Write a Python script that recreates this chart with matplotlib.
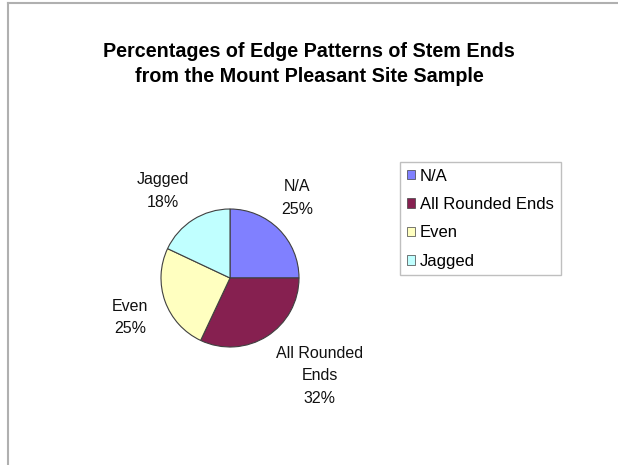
import matplotlib.pyplot as plt
import numpy as np
from matplotlib.patches import Patch
from matplotlib.lines import Line2D

plt.rcParams['font.family'] = ['Liberation Sans', 'DejaVu Sans']

# data
categories = ['N/A', 'All Rounded Ends', 'Even', 'Jagged']
percents = [25, 32, 25, 18]
label_texts = ['N/A', 'All Rounded\nEnds', 'Even', 'Jagged']
colors = ['#8080ff', '#862050', '#ffffc0', '#c0ffff']

W, H = 618, 465
fig = plt.figure(figsize=(W / 100, H / 100), dpi=100)

# frame of the chart area (cut at right/bottom)
fig.add_artist(Line2D([8 / W, 1], [1 - 3 / H, 1 - 3 / H], color='#b0b0b0', lw=1.5))
fig.add_artist(Line2D([8 / W, 8 / W], [0, 1 - 3 / H], color='#b0b0b0', lw=1.5))

fig.text(309 / W, 1 - 64 / H,
         'Percentages of Edge Patterns of Stem Ends\nfrom the Mount Pleasant Site Sample',
         ha='center', va='center', fontsize=14.2, fontweight='bold', linespacing=1.4)

# pie axes: center at (230, 278) px, radius 69 px
cx, cy, r, half = 230, 278, 69, 160
ax = fig.add_axes([(cx - half) / W, (H - cy - half) / H, 2 * half / W, 2 * half / H])

wedges, _ = ax.pie(percents, colors=colors, startangle=90, counterclock=False,
                   radius=1, wedgeprops=dict(edgecolor='#404040', linewidth=0.8))
lim = half / r
ax.set_xlim(-lim, lim)
ax.set_ylim(-lim, lim)
ax.set_aspect('equal')
ax.axis('off')

# label offsets from the pie centre (in pie radii), Excel-style placement
label_pos = [(0.97, 1.16), (1.30, -1.42), (-1.45, -0.57), (-0.97, 1.26)]
for txt, p, (lx, ly) in zip(label_texts, percents, label_pos):
    ax.text(lx, ly, f'{txt}\n{p}%', ha='center', va='center', fontsize=11.5,
            linespacing=1.6, color='#111111')

handles = [Patch(facecolor=c, edgecolor='#404040', linewidth=0.5) for c in colors]
leg = fig.legend(handles, categories, loc='upper left',
                 bbox_to_anchor=(400 / W, 1 - 162 / H), frameon=True, fancybox=False,
                 fontsize=12, handlelength=0.5, handleheight=0.5, handletextpad=0.3,
                 labelspacing=0.8, borderpad=0.4, borderaxespad=0)
leg.get_frame().set_edgecolor('#b0b0b0')
leg.get_frame().set_linewidth(1.0)

fig.savefig('out.png', dpi=100)
